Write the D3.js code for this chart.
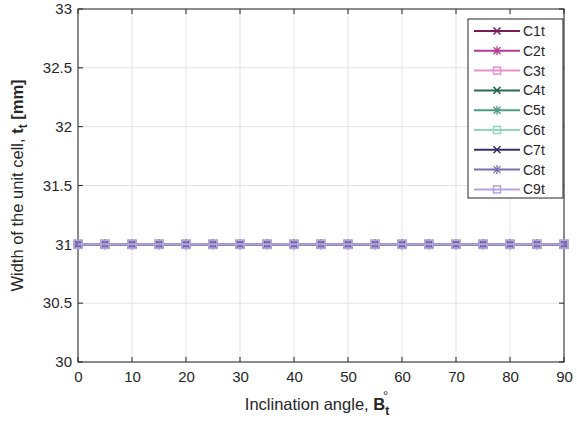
<!DOCTYPE html>
<html>
<head>
<meta charset="utf-8">
<script src="https://cdn.jsdelivr.net/npm/d3@7"></script>
<style>
  body { margin: 0; background: #fff; }
  text { font-family: "Liberation Sans", Arial, sans-serif; fill: #262626; }
</style>
</head>
<body>
<div class="chart"></div>
<script>
// data
var angles = [0, 5, 10, 15, 20, 25, 30, 35, 40, 45, 50, 55, 60, 65, 70, 75, 80, 85, 90];
var seriesNames = ["C1t", "C2t", "C3t", "C4t", "C5t", "C6t", "C7t", "C8t", "C9t"];
var seriesValues = [
  [31, 31, 31, 31, 31, 31, 31, 31, 31, 31, 31, 31, 31, 31, 31, 31, 31, 31, 31],
  [31, 31, 31, 31, 31, 31, 31, 31, 31, 31, 31, 31, 31, 31, 31, 31, 31, 31, 31],
  [31, 31, 31, 31, 31, 31, 31, 31, 31, 31, 31, 31, 31, 31, 31, 31, 31, 31, 31],
  [31, 31, 31, 31, 31, 31, 31, 31, 31, 31, 31, 31, 31, 31, 31, 31, 31, 31, 31],
  [31, 31, 31, 31, 31, 31, 31, 31, 31, 31, 31, 31, 31, 31, 31, 31, 31, 31, 31],
  [31, 31, 31, 31, 31, 31, 31, 31, 31, 31, 31, 31, 31, 31, 31, 31, 31, 31, 31],
  [31, 31, 31, 31, 31, 31, 31, 31, 31, 31, 31, 31, 31, 31, 31, 31, 31, 31, 31],
  [31, 31, 31, 31, 31, 31, 31, 31, 31, 31, 31, 31, 31, 31, 31, 31, 31, 31, 31],
  [31, 31, 31, 31, 31, 31, 31, 31, 31, 31, 31, 31, 31, 31, 31, 31, 31, 31, 31]
];
var xTicks = [0, 10, 20, 30, 40, 50, 60, 70, 80, 90];
var yTicks = [30, 30.5, 31, 31.5, 32, 32.5, 33];

var colors = ["#7a1c5c", "#b43c92", "#e88fcf", "#2a6a50", "#4c9c82", "#92d6bc", "#3a2c6c", "#7c6cb0", "#b6a2e2"];
var markers = ["x", "star", "square", "x", "star", "square", "x", "star", "square"];

var width = 577, height = 425;
var margin = {left: 78, right: 13, top: 9, bottom: 63};

var svg = d3.select(".chart").append("svg").attr("width", width).attr("height", height);

var x = d3.scaleLinear().domain([0, 90]).range([margin.left, width - margin.right]);
var y = d3.scaleLinear().domain([30, 33]).range([height - margin.bottom, margin.top]);

// grid
svg.append("g").selectAll("line").data(xTicks).enter().append("line")
   .attr("x1", function(d){ return x(d); }).attr("x2", function(d){ return x(d); })
   .attr("y1", y(30)).attr("y2", y(33))
   .attr("stroke", "#e3e3e3").attr("stroke-width", 1);
svg.append("g").selectAll("line").data(yTicks).enter().append("line")
   .attr("x1", x(0)).attr("x2", x(90))
   .attr("y1", function(d){ return y(d); }).attr("y2", function(d){ return y(d); })
   .attr("stroke", "#e3e3e3").attr("stroke-width", 1);

// axes
var xAxis = d3.axisBottom(x).tickValues(xTicks).tickSize(0).tickPadding(9);
var yAxis = d3.axisLeft(y).tickValues(yTicks).tickSize(0).tickPadding(6).tickFormat(d3.format("~g"));

var gx = svg.append("g").attr("transform", "translate(0," + y(30) + ")").call(xAxis);
var gy = svg.append("g").attr("transform", "translate(" + x(0) + ",0)").call(yAxis);
[gx, gy].forEach(function(g){
  g.select(".domain").remove();
  g.selectAll("text").style("font-size", "15px").style("fill", "#262626")
   .style("font-family", "Liberation Sans, Arial, sans-serif");
});

// inner tick marks
svg.append("g").selectAll("line").data(xTicks).enter().append("line")
   .attr("x1", function(d){ return x(d); }).attr("x2", function(d){ return x(d); })
   .attr("y1", y(30)).attr("y2", y(30) - 5).attr("stroke", "#262626");
svg.append("g").selectAll("line").data(xTicks).enter().append("line")
   .attr("x1", function(d){ return x(d); }).attr("x2", function(d){ return x(d); })
   .attr("y1", y(33)).attr("y2", y(33) + 5).attr("stroke", "#262626");
svg.append("g").selectAll("line").data(yTicks).enter().append("line")
   .attr("x1", x(0)).attr("x2", x(0) + 5)
   .attr("y1", function(d){ return y(d); }).attr("y2", function(d){ return y(d); }).attr("stroke", "#262626");
svg.append("g").selectAll("line").data(yTicks).enter().append("line")
   .attr("x1", x(90)).attr("x2", x(90) - 5)
   .attr("y1", function(d){ return y(d); }).attr("y2", function(d){ return y(d); }).attr("stroke", "#262626");

// box
svg.append("rect").attr("x", x(0)).attr("y", y(33))
   .attr("width", x(90) - x(0)).attr("height", y(30) - y(33))
   .attr("fill", "none").attr("stroke", "#262626").attr("stroke-width", 1);

// marker drawing
function drawMarker(g, type, cx, cy, color, s) {
  if (type === "square") {
    g.append("rect").attr("x", cx - s).attr("y", cy - s).attr("width", 2 * s).attr("height", 2 * s)
     .attr("fill", "none").attr("stroke", color).attr("stroke-width", 1.5);
  } else if (type === "x") {
    g.append("path").attr("d", "M" + (cx - s) + "," + (cy - s) + "L" + (cx + s) + "," + (cy + s) +
                                "M" + (cx - s) + "," + (cy + s) + "L" + (cx + s) + "," + (cy - s))
     .attr("stroke", color).attr("stroke-width", 1.5);
  } else {
    g.append("path").attr("d", "M" + (cx - s) + "," + (cy - s) + "L" + (cx + s) + "," + (cy + s) +
                                "M" + (cx - s) + "," + (cy + s) + "L" + (cx + s) + "," + (cy - s) +
                                "M" + cx + "," + (cy - s - 1) + "L" + cx + "," + (cy + s + 1) +
                                "M" + (cx - s - 1) + "," + cy + "L" + (cx + s + 1) + "," + cy)
     .attr("stroke", color).attr("stroke-width", 1.3);
  }
}

// series
var line = d3.line().x(function(d, i){ return x(angles[i]); }).y(function(d){ return y(d); });
seriesValues.forEach(function(vals, k) {
  var g = svg.append("g");
  g.append("path").datum(vals).attr("d", line)
   .attr("fill", "none").attr("stroke", colors[k]).attr("stroke-width", 2);
  vals.forEach(function(v, i) {
    drawMarker(g, markers[k], x(angles[i]), y(v), colors[k], 4);
  });
});

// legend
var lx = 468, ly = 19, lw = 95, rowH = 19.8;
var legend = svg.append("g");
legend.append("rect").attr("x", lx).attr("y", ly).attr("width", lw).attr("height", 179)
   .attr("fill", "#fff").attr("stroke", "#262626").attr("stroke-width", 1);
seriesNames.forEach(function(name, k) {
  var cy = ly + 12 + k * rowH;
  legend.append("line").attr("x1", lx + 6).attr("x2", lx + 52).attr("y1", cy).attr("y2", cy)
     .attr("stroke", colors[k]).attr("stroke-width", 2);
  drawMarker(legend, markers[k], lx + 29, cy, colors[k], 3.5);
  legend.append("text").attr("x", lx + 55).attr("y", cy + 5).text(name).style("font-size", "14px");
});

// axis labels
var xl = svg.append("text").attr("x", (x(0) + x(90)) / 2 - 4).attr("y", 410)
   .attr("text-anchor", "middle").style("font-size", "16.5px");
xl.append("tspan").text("Inclination angle, ");
xl.append("tspan").text("B").style("font-weight", "bold");
xl.append("tspan").text("t").style("font-weight", "bold").style("font-size", "12px").attr("dy", 5);
// degree sign sits above the subscript
var bbox = xl.node().getBBox();
svg.append("text").attr("x", bbox.x + bbox.width - 3.5).attr("y", 400)
   .attr("text-anchor", "middle").style("font-size", "13px").text("°");

var yl = svg.append("text").attr("transform", "translate(23," + ((y(30) + y(33)) / 2) + ") rotate(-90)")
   .attr("text-anchor", "middle").style("font-size", "16.5px");
yl.append("tspan").text("Width of the unit cell, ");
yl.append("tspan").text("t").style("font-weight", "bold");
yl.append("tspan").text("t").style("font-weight", "bold").style("font-size", "12px").attr("dy", 4);
yl.append("tspan").text(" [mm]").style("font-weight", "bold").attr("dy", -4);
</script>
</body>
</html>
